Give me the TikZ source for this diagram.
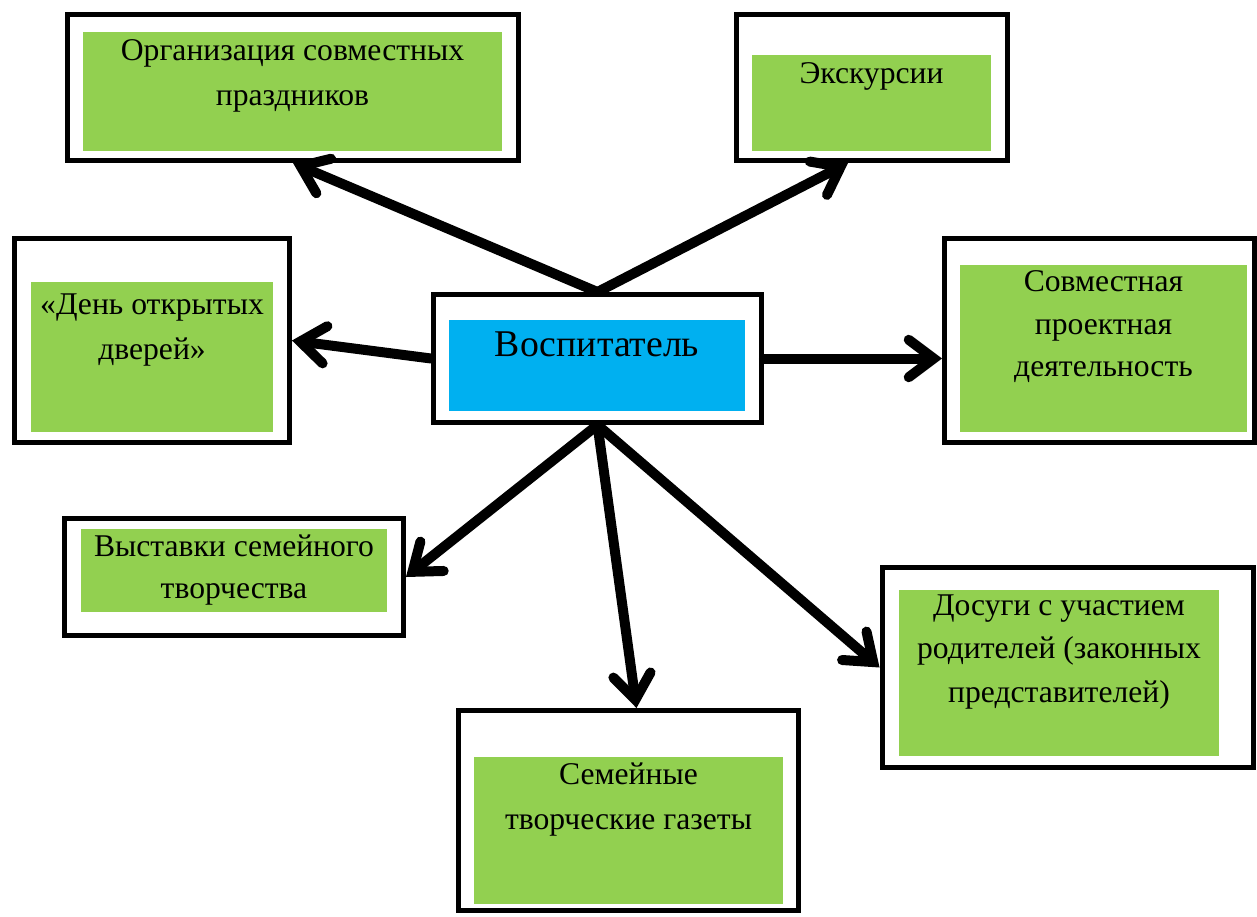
\documentclass[tikz,border=0pt]{standalone}
\usepackage{fontspec}
\setmainfont{Liberation Serif}
\newfontfamily\timesfont{Liberation Serif}
\usetikzlibrary{arrows.meta,calc}
\definecolor{boxgreen}{HTML}{92D050}
\definecolor{boxblue}{HTML}{00B0F0}
\tikzset{
  frame/.style 2 args={draw=black,fill=white,line width=0.1cm,inner sep=0pt,minimum width=#1,minimum height=#2},
  pane/.style 2 args={fill=boxgreen,inner sep=0pt,minimum width=#1,minimum height=#2},
  boxtext/.style={align=center,inner sep=0pt,font=\timesfont\fontsize{18}{25.5}\selectfont},
  link/.style={line width=0.2cm,line cap=round,-{Straight Barb[length=0.5cm,width=0.75cm,line cap=round]}}
}
\begin{document}
\begin{tikzpicture}[x=0.02cm,y=-0.02cm]
  \useasboundingbox (0,0) rectangle (1257,916);
  \node[frame={9.02cm}{2.92cm}] (feast) at (293,87.5) {};
  \node[pane={8.38cm}{2.38cm}] (feastpane) at (292.5,91.5) {};
  \node[boxtext] (feasttext) at (292.5,76) {Организация совместных\\праздников};
  \node[frame={5.42cm}{2.92cm}] (trip) at (872,87.5) {};
  \node[pane={4.78cm}{1.92cm}] (trippane) at (871.5,103) {};
  \node[boxtext] (triptext) at (871.5,76) {Экскурсии};
  \node[frame={5.5cm}{4.08cm}] (opendays) at (152,340.5) {};
  \node[pane={4.84cm}{3cm}] (opendayspane) at (152,357) {};
  \node[boxtext] (opendaystext) at (152,330) {«День открытых\\дверей»};
  \node[frame={6.56cm}{2.56cm}] (tutor) at (597.5,358.5) {};
  \node[fill=boxblue,inner sep=0pt,minimum width=5.92cm,minimum height=1.82cm] (tutorpane) at (597,365.5) {};
  \node[boxtext,font=\timesfont\fontsize{21.5}{26}\selectfont] (tutortext) at (597,344) {Воспитатель};
  \node[frame={6.2cm}{4.08cm}] (project) at (1099.5,340.5) {};
  \node[pane={5.74cm}{3.34cm}] (projectpane) at (1103.5,348.5) {};
  \node[boxtext,font=\timesfont\fontsize{18}{24.2}\selectfont] (projecttext) at (1103.5,327) {Совместная\\проектная\\деятельность};
  \node[frame={6.78cm}{2.34cm}] (expo) at (234,577) {};
  \node[pane={6.12cm}{1.66cm}] (expopane) at (234,570.5) {};
  \node[boxtext,font=\timesfont\fontsize{18}{23.9}\selectfont] (expotext) at (234,570) {Выставки семейного\\творчества};
  \node[frame={7.44cm}{4cm}] (leisure) at (1068,667.5) {};
  \node[pane={6.4cm}{3.32cm}] (leisurepane) at (1059,673) {};
  \node[boxtext,font=\timesfont\fontsize{18}{24.5}\selectfont] (leisuretext) at (1059,652) {Досуги с участием\\родителей (законных\\представителей)};
  \node[frame={6.8cm}{4cm}] (paper) at (628.5,810.5) {};
  \node[pane={6.18cm}{2.94cm}] (paperpane) at (628.5,830.5) {};
  \node[boxtext,font=\timesfont\fontsize{18}{25.6}\selectfont] (papertext) at (628.5,800) {Семейные\\творческие газеты};
  \draw[link] (tutor.north) -- (feast.south);
  \draw[link] (tutor.north) -- ($(trip.south)+(-24,0)$);
  \draw[link] (tutor.west) -- (opendays.east);
  \draw[link] (tutor.east) -- (tutor.east -| project.west);
  \draw[link] (tutor.south) -- (expo.east);
  \draw[link] (tutor.south) -- ($(paper.north)+(8,0)$);
  \draw[link] (tutor.south) -- (leisure.west);
\end{tikzpicture}
\end{document}
